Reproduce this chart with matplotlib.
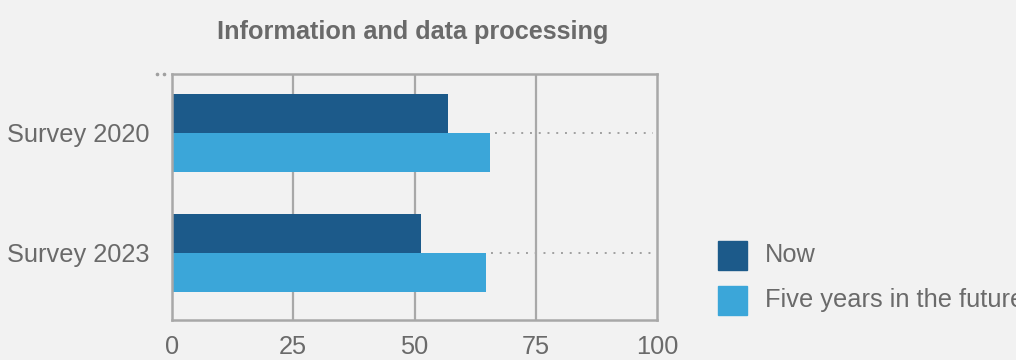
import matplotlib
matplotlib.use("Agg")
import matplotlib.pyplot as plt
from matplotlib.patches import Rectangle
from matplotlib.lines import Line2D
import numpy as np

categories = ["Survey 2020", "Survey 2023"]
now_values = [56.9, 51.3]
future_values = [65.6, 64.7]
x_ticks = [0, 25, 50, 75, 100]
series_labels = ["Now", "Five years in the future"]

bg = "#f2f2f2"
c_now = "#1c5a8a"
c_future = "#3ba6d9"
text_c = "#6a6a6a"
grid_c = "#a8a8a8"

plt.rcParams["font.family"] = ["Liberation Sans", "DejaVu Sans"]

W, H = 1016, 360
fig = plt.figure(figsize=(W / 100, H / 100), dpi=100, facecolor=bg)
ax = fig.add_axes([172 / W, 1 - 320 / H, 485 / W, 246 / H], facecolor=bg)

y = np.arange(len(categories))
h = 0.325
ax.barh(y - h / 2, now_values, height=h, color=c_now, zorder=2)
ax.barh(y + h / 2, future_values, height=h, color=c_future, zorder=2)

# dotted leaders from the future bar to the right edge
for yi, v in zip(y, future_values):
    ax.plot([v + 1, 99.2], [yi, yi], linestyle=(0, (1, 3.5)), color="#a0a0a0",
            linewidth=1.4, zorder=1)

for t in x_ticks[1:-1]:
    ax.axvline(t, color=grid_c, linewidth=1.6, zorder=1)

ax.set_xlim(0, 100)
ax.set_ylim(1.56, -0.49)
ax.set_xticks(x_ticks)
ax.set_xticklabels([str(t) for t in x_ticks])
ax.set_yticks(y)
ax.set_yticklabels(categories)
ax.tick_params(axis="both", length=0, labelsize=18.3, colors=text_c)
ax.tick_params(axis="x", pad=11)
ax.tick_params(axis="y", pad=16)
for s in ax.spines.values():
    s.set_color(grid_c)
    s.set_linewidth(1.8)

# small corner dots beside the top spine
fig.add_artist(Line2D([157 / W, 164 / W], [1 - 74 / H, 1 - 74 / H], linestyle="none",
                      marker="o", markersize=1.6, color="#a0a0a0"))

fig.text(413 / W, 1 - 32 / H, "Information and data processing", ha="center", va="center",
         fontsize=18.2, fontweight="bold", color=text_c)

# legend
colors = [c_now, c_future]
centers = [255, 300]
for lab, col, cy in zip(series_labels, colors, centers):
    fig.add_artist(Rectangle((718 / W, 1 - (cy + 14.5) / H), 29 / W, 29 / H,
                             transform=fig.transFigure, color=col))
    fig.text(765 / W, 1 - cy / H, lab, ha="left", va="center", fontsize=18.3,
             color=text_c)

fig.savefig("out.png", dpi=100, facecolor=bg)
